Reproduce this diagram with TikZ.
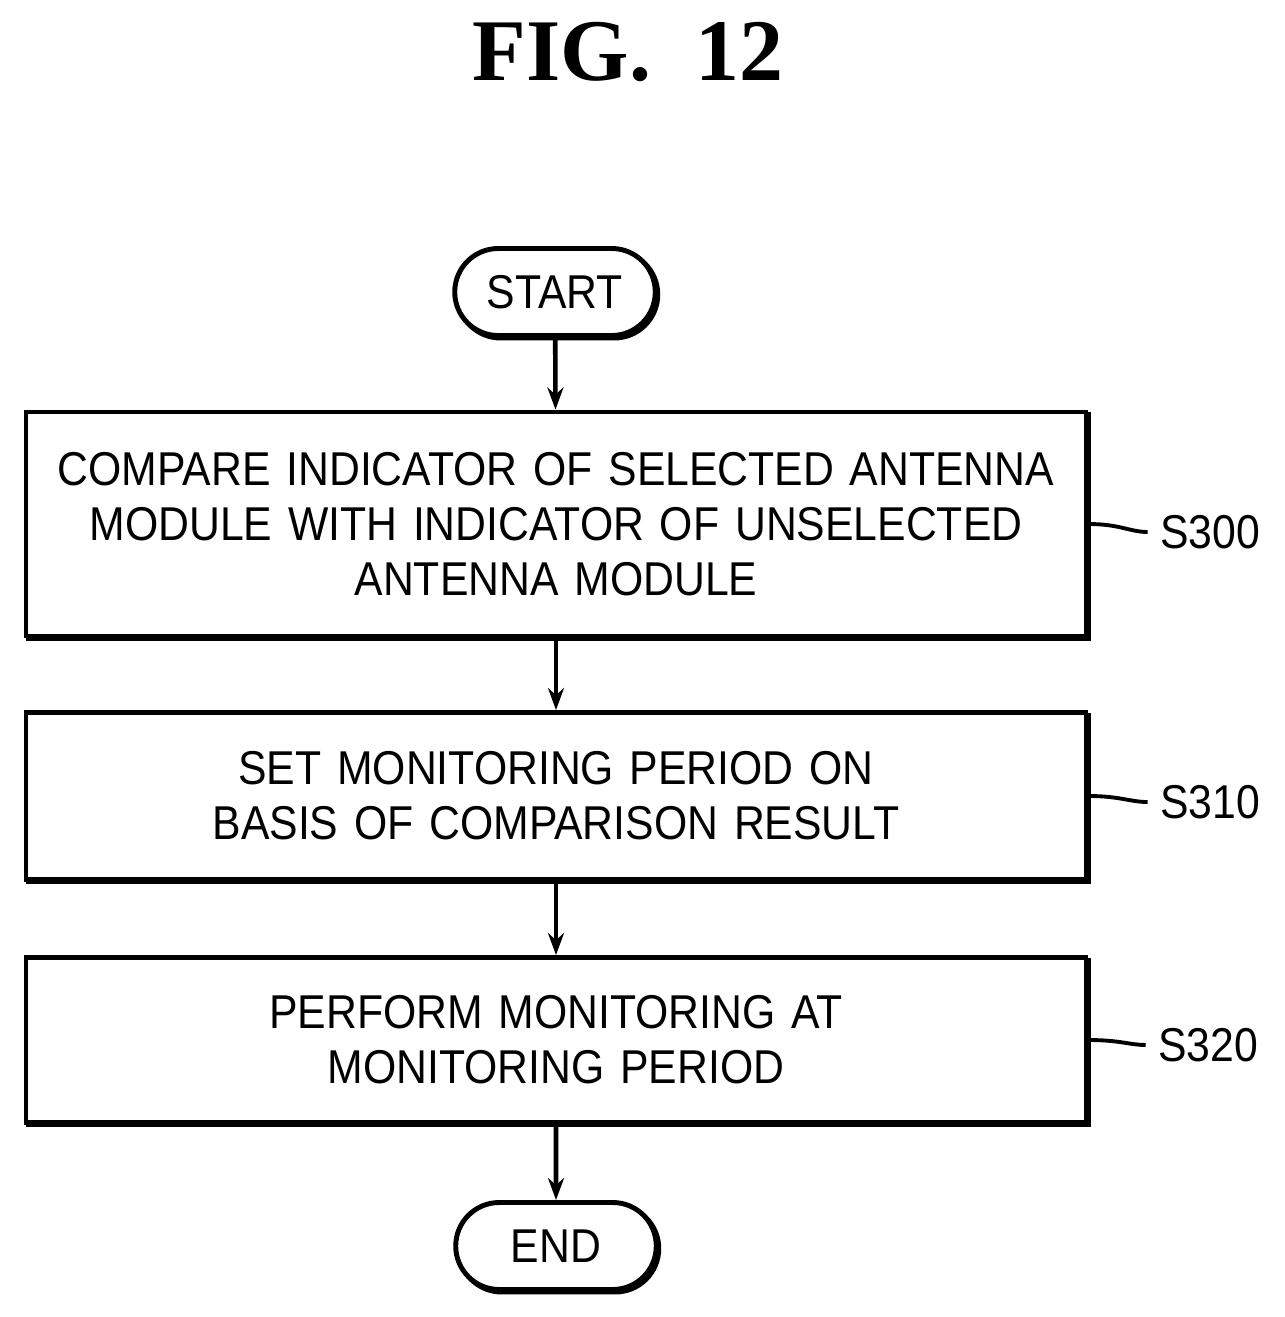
\documentclass[tikz,border=0pt]{standalone}
\usepackage{fontspec}
\setmainfont{Liberation Serif}
\setsansfont{Liberation Sans}[FakeStretch=0.9]
\usetikzlibrary{arrows.meta,shapes.misc,shadows}
\begin{document}
\begin{tikzpicture}[x=0.01cm,y=-0.01cm,
  box/.style={draw,line width=1.4pt,fill=white,text width=1040*0.01cm,inner xsep=0.1cm,align=center,font=\sffamily\fontsize{13.5}{15.6}\selectfont,
     copy shadow={shadow xshift=0.025cm,shadow yshift=-0.025cm,draw,fill=black}},
  term/.style={draw,line width=1.4pt,fill=white,rounded rectangle,minimum width=224*0.01cm,minimum height=87*0.01cm,font=\sffamily\fontsize{13.5}{16}\selectfont,
     copy shadow={shadow xshift=0.025cm,shadow yshift=-0.025cm,draw,fill=black}},
  arr/.style={line width=1.3pt,-{Stealth[length=0.22cm,width=0.16cm]}},
  lab/.style={font=\sffamily\fontsize{13.5}{16}\selectfont},
  lead/.style={line width=1.1pt}]
\useasboundingbox (0,0) rectangle (1285,1317);
\node[font=\bfseries\fontsize{25}{30}\selectfont] (title) at (628,52) {FIG.\ \ 12};
\node[term] (start) at (555,292) {START};
\node[box,minimum height=224*0.01cm] (b1) at (556,524) {COMPARE INDICATOR OF SELECTED ANTENNA\\MODULE WITH INDICATOR OF UNSELECTED\\ANTENNA MODULE};
\node[box,minimum height=167*0.01cm] (b2) at (556,796) {SET MONITORING PERIOD ON\\BASIS OF COMPARISON RESULT};
\node[box,minimum height=165*0.01cm] (b3) at (556,1040) {PERFORM MONITORING AT\\MONITORING PERIOD};
\node[term] (end) at (556,1246) {END};
\draw[arr] (start) -- (b1);
\draw[arr] (b1) -- (b2);
\draw[arr] (b2) -- (b3);
\draw[arr] (b3) -- (end);
\node[lab] (s300) at (1210,532) {S300};
\node[lab] (s310) at (1210,802) {S310};
\node[lab] (s320) at (1208,1045) {S320};
\draw[lead] (b1.east) .. controls (1120,524) and (1130,532) .. (s300.west);
\draw[lead] (b2.east) .. controls (1120,796) and (1130,802) .. (s310.west);
\draw[lead] (b3.east) .. controls (1120,1040) and (1130,1045) .. (s320.west);
\end{tikzpicture}
\end{document}
